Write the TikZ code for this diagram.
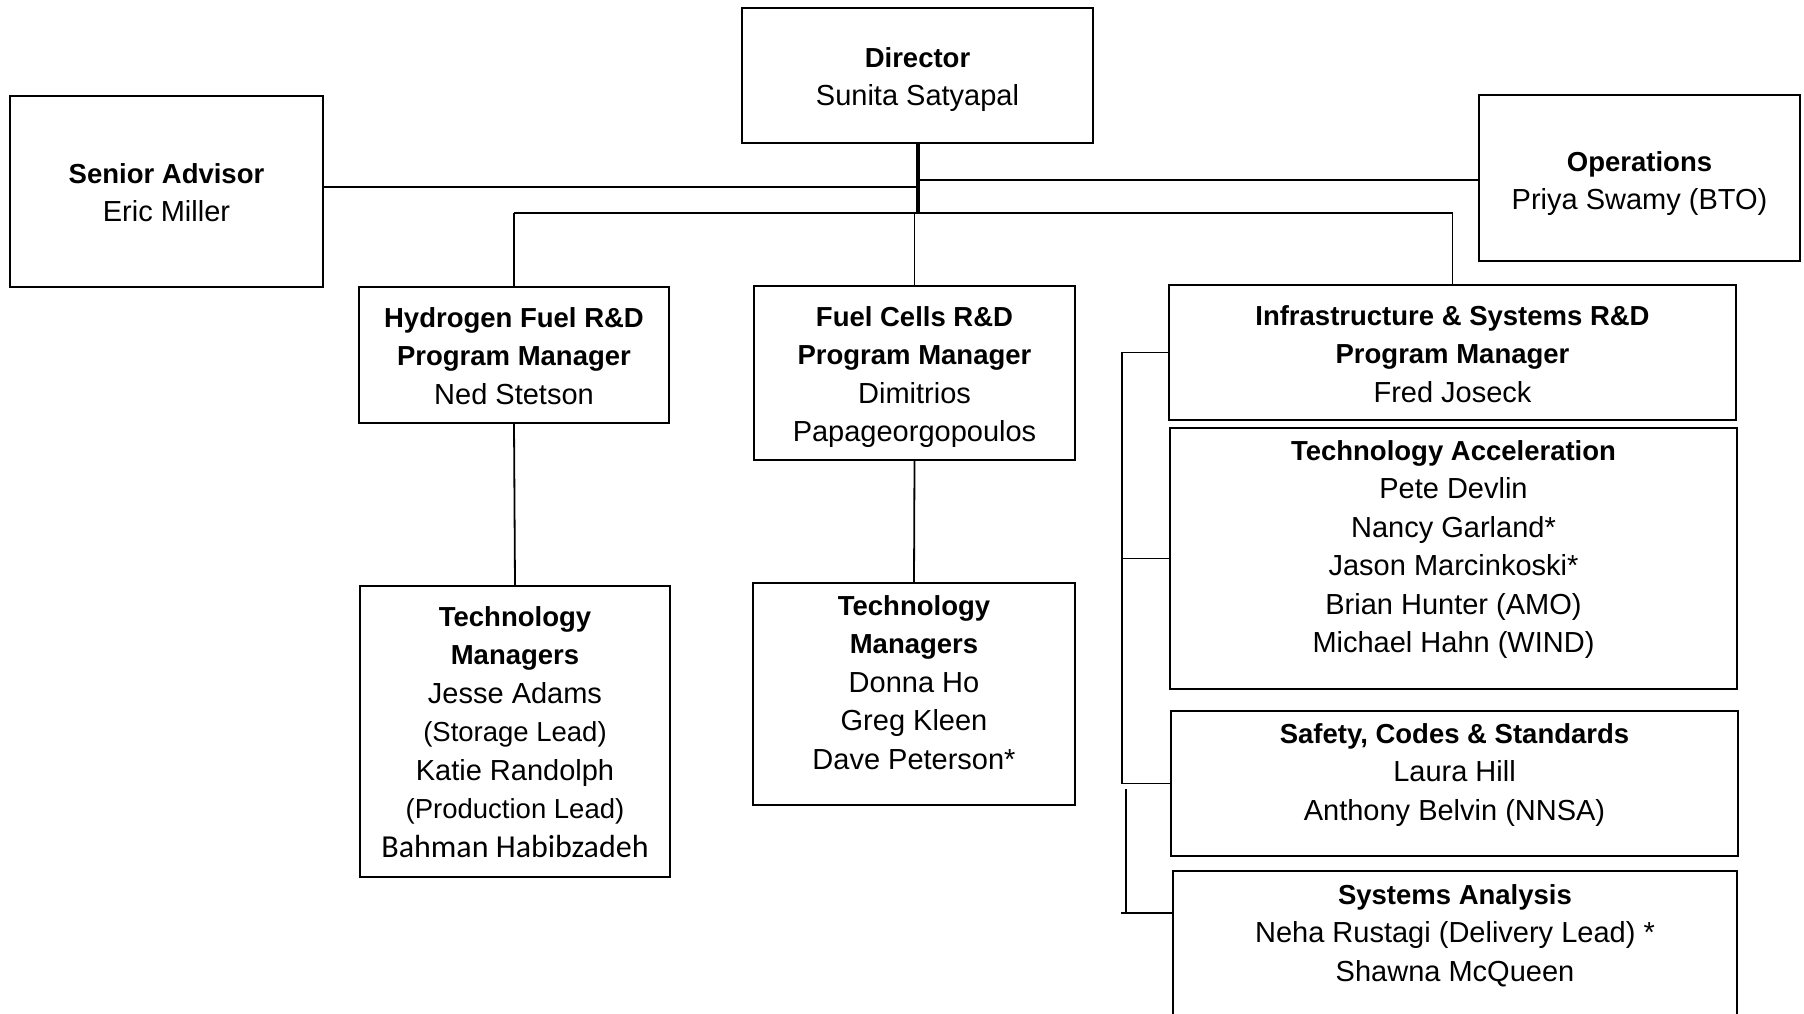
\documentclass[tikz,border=0pt]{standalone}
\usepackage{fontspec}
\setmainfont{Liberation Sans}
\newfontfamily\calfont{Carlito}
\newcommand\nmfont{\fontsize{29}{38.5}\selectfont}
\newcommand\hd[1]{{\fontsize{27.5}{38.5}\selectfont\bfseries #1}}
\newcommand\sm[1]{{\fontsize{27.5}{38.5}\selectfont #1}}
\tikzset{
  orgbox/.style={draw, line width=1.8pt, inner sep=0pt},
  orgtext/.style={inner sep=0pt, align=center, font=\nmfont, anchor=north},
  link/.style={line width=1.8pt},
  trunk/.style={line width=4pt}
}
\begin{document}
\begin{tikzpicture}[x=1pt, y=-1pt]
\useasboundingbox (0,0) rectangle (1804,1013);
\fill[white] (0,0) rectangle (1804,1013);
\clip (0,0) rectangle (1804,1013);

% top level
\node[orgbox, minimum width=351pt, minimum height=135pt] (dir) at (917.5,75.5) {};
\node[orgtext] (dirt) at ([yshift=-40pt]dir.north)
  {\hd{Director}\\Sunita Satyapal};
\node[orgbox, minimum width=313pt, minimum height=191pt] (sen) at (166.5,191.5) {};
\node[orgtext] (sent) at ([yshift=-68pt]sen.north)
  {\hd{Senior Advisor}\\Eric Miller};
\node[orgbox, minimum width=321pt, minimum height=166pt] (ops) at (1639.5,178) {};
\node[orgtext] (opst) at ([yshift=-57pt]ops.north)
  {\hd{Operations}\\Priya Swamy (BTO)};

% program managers
\node[orgbox, minimum width=310pt, minimum height=136pt] (hyd) at (514,355) {};
\node[orgtext] (hydt) at ([yshift=-21pt]hyd.north)
  {\hd{Hydrogen Fuel R\&D}\\\hd{Program Manager}\\Ned Stetson};
\node[orgbox, minimum width=321pt, minimum height=174pt] (fc) at (914.5,373) {};
\node[orgtext] (fct) at ([yshift=-21pt]fc.north)
  {\hd{Fuel Cells R\&D}\\\hd{Program Manager}\\Dimitrios\\Papageorgopoulos};
\node[orgbox, minimum width=567pt, minimum height=135pt] (inf) at (1452.5,352.5) {};
\node[orgtext] (inft) at ([yshift=-21pt]inf.north)
  {\hd{Infrastructure \& Systems R\&D}\\\hd{Program Manager}\\Fred Joseck};

% technology managers
\node[orgbox, minimum width=310pt, minimum height=291pt] (htm) at (515,731.5) {};
\node[orgtext] (htmt) at ([yshift=-21pt]htm.north)
  {\hd{Technology}\\\hd{Managers}\\Jesse Adams\\\sm{(Storage Lead)}\\Katie Randolph\\\sm{(Production Lead)}\\{\fontsize{32}{38.5}\selectfont\calfont Bahman Habibzadeh}};
\node[orgbox, minimum width=322pt, minimum height=222pt] (ftm) at (914,694) {};
\node[orgtext] (ftmt) at ([yshift=-13pt]ftm.north)
  {\hd{Technology}\\\hd{Managers}\\Donna Ho\\Greg Kleen\\Dave Peterson*};

% infrastructure teams
\node[orgbox, minimum width=567pt, minimum height=261pt] (ta) at (1453.5,558.5) {};
\node[orgtext] (tat) at ([yshift=-13pt]ta.north)
  {\hd{Technology Acceleration}\\Pete Devlin\\Nancy Garland*\\Jason Marcinkoski*\\Brian Hunter (AMO)\\Michael Hahn (WIND)};
\node[orgbox, minimum width=567pt, minimum height=145pt] (scs) at (1454.5,783.5) {};
\node[orgtext] (scst) at ([yshift=-13pt]scs.north)
  {\hd{Safety, Codes \& Standards}\\Laura Hill\\Anthony Belvin (NNSA)};
\node[orgbox, minimum width=564pt, minimum height=160pt] (sa) at (1455,951) {};
\node[orgtext] (sat) at ([yshift=-14pt]sa.north)
  {\hd{Systems Analysis}\\Neha Rustagi (Delivery Lead) *\\Shawna McQueen};

% director links
\coordinate (j) at (917.5,213);
\draw[trunk] (dir.south) -- (j);
\coordinate (senl) at (323,187);
\draw[link] (senl) -- (senl -| dir.south);
\coordinate (opsl) at (1479,180);
\draw[link] (opsl) -- (opsl -| dir.south);
\draw[link] (j -| hyd.north) -- (j -| inf.north);
\draw[link] (hyd.north) -- (hyd.north |- j);
\draw[link] (inf.north) -- (inf.north |- j);
\draw[link] (fc.north) -- (fc.north |- j);
\draw[link] (hyd.south) -- (htm.north);
\draw[link] (fc.south) -- (ftm.north);

% infrastructure bracket
\coordinate (b1) at (1122,352.5);
\coordinate (b3) at (1122,783.5);
\draw[link] (inf.west) -- (b1) -- (b3) -- (scs.west);
\draw[link] (ta.west) -- (ta.west -| b1);
\coordinate (c1) at (1126,789);
\coordinate (c2) at (1126,913);
\coordinate (c3) at (1121,913);
\coordinate (c4) at (1173,913);
\draw[link] (c1) -- (c2);
\draw[link] (c3) -- (c4);
\end{tikzpicture}
\end{document}
